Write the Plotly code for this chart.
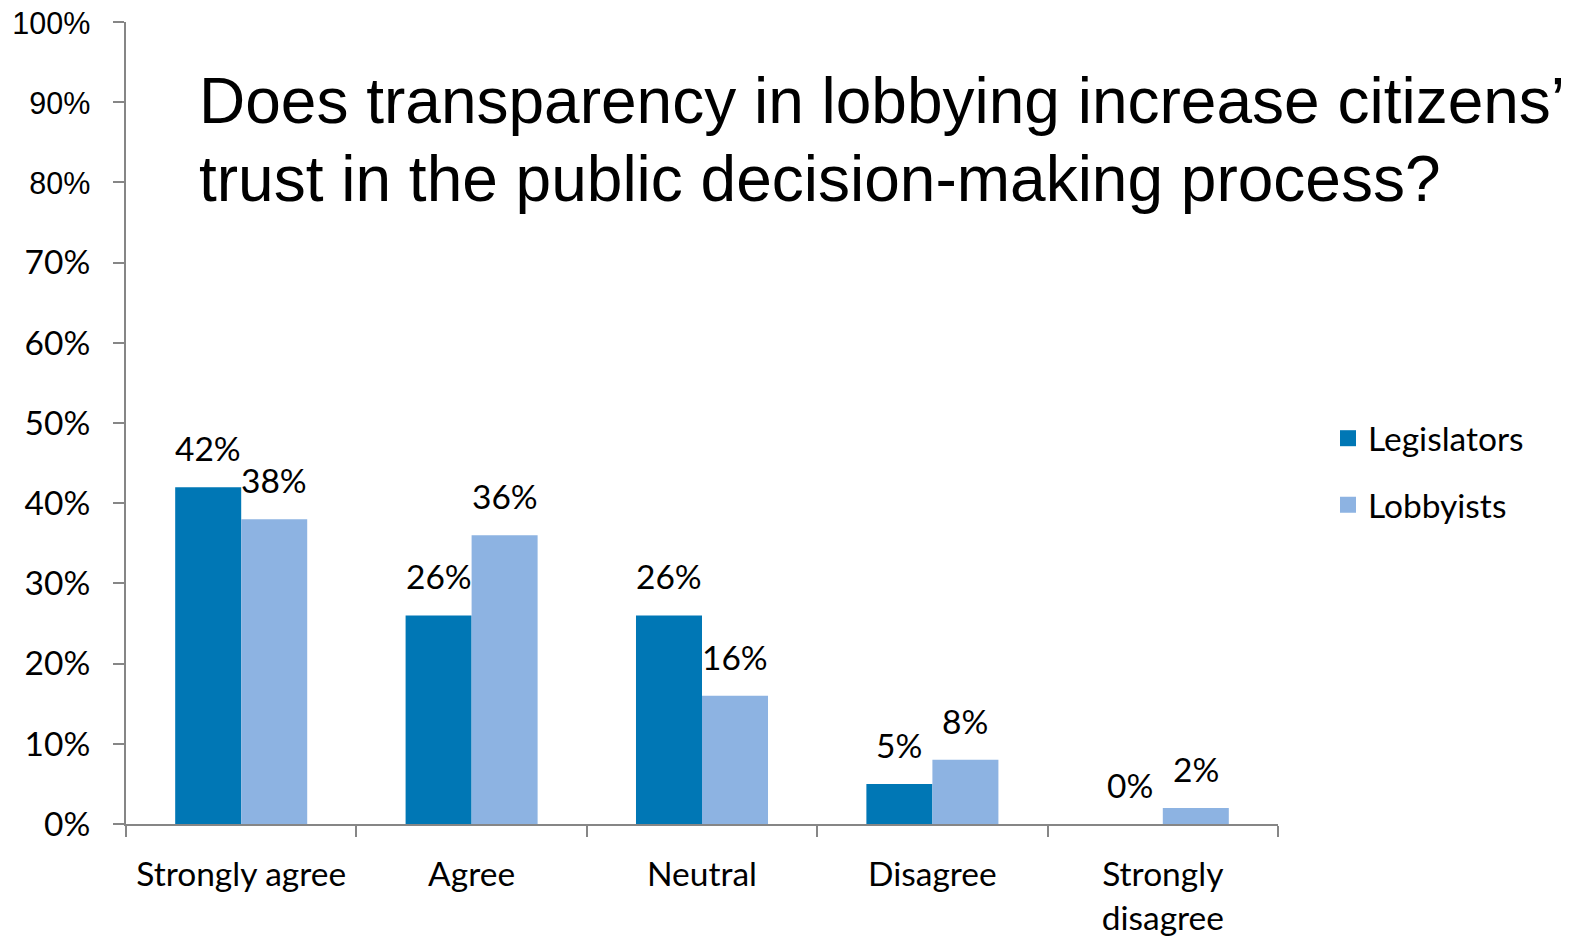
import plotly.graph_objects as go

# Survey answers and the share of each group choosing them (%)
categories = ["Strongly agree", "Agree", "Neutral", "Disagree", "Strongly<br>disagree"]
legislators = [42, 26, 26, 5, 0]
lobbyists = [38, 36, 16, 8, 2]

ytick_values = [0, 10, 20, 30, 40, 50, 60, 70, 80, 90, 100]
ytick_labels = ["0%", "10%", "20%", "30%", "40%", "50%", "60%", "70%",
                "80%", "90%", "100%"]

title_lines = ["Does transparency in lobbying increase citizens’",
               "trust in the public decision-making process?"]

DARK = "#0077B5"
LIGHT = "#8DB3E2"
AXIS = "#868686"
BODY_FONT = "Lato"
BODY_SIZE = 33.5
TITLE_FONT = "Liberation Sans"

W, H = 1572, 937
M_L, M_R, M_T, M_B = 126, 294, 22, 113
PLOT_W = W - M_L - M_R
PLOT_H = H - M_T - M_B


def px_x(x):
    """Figure pixel column -> paper x."""
    return (x - M_L) / PLOT_W


def px_y(y):
    """Figure pixel row -> paper y."""
    return (H - M_B - y) / PLOT_H


# Upper tick labels are set in the title's sans face
ticktext = [
    t if v < 80 else f'<span style="font-family:{TITLE_FONT};font-size:30.5px">{t}</span>'
    for v, t in zip(ytick_values, ytick_labels)
]

fig = go.Figure()
fig.add_trace(go.Bar(x=categories, y=legislators, name="Legislators",
                     marker=dict(color=DARK, line=dict(width=0)), showlegend=False))
fig.add_trace(go.Bar(x=categories, y=lobbyists, name="Lobbyists",
                     marker=dict(color=LIGHT, line=dict(width=0)), showlegend=False))

# Legend entries with larger square swatches
for name, color in (("Legislators", DARK), ("Lobbyists", LIGHT)):
    fig.add_trace(go.Scatter(x=[None], y=[None], mode="markers", name=name,
                             legendgroup=name,
                             marker=dict(symbol="square", size=20, color=color)))

# Value labels above each bar
annotations = []
for vals, shift in ((legislators, -33), (lobbyists, 33)):
    for cat, v in zip(categories, vals):
        annotations.append(dict(x=cat, y=v, xref="x", yref="y", text=f"{v}%",
                                showarrow=False, xshift=shift, yshift=17,
                                yanchor="bottom",
                                font=dict(family=BODY_FONT, size=BODY_SIZE,
                                          color="black")))

# Two-line question set inside the plot area
for line, y_px in zip(title_lines, (101, 179)):
    annotations.append(dict(x=px_x(197), y=px_y(y_px), xref="paper", yref="paper",
                            xanchor="left", yanchor="middle", align="left",
                            showarrow=False, text=line,
                            font=dict(family=TITLE_FONT, size=64, color="black")))

fig.update_layout(
    width=W, height=H,
    margin=dict(l=M_L, r=M_R, t=M_T, b=M_B, autoexpand=False),
    plot_bgcolor="white", paper_bgcolor="white",
    barmode="group", bargap=0.427, bargroupgap=0,
    font=dict(family=BODY_FONT, size=BODY_SIZE, color="black"),
    annotations=annotations,
    legend=dict(x=px_x(1328), y=0.5163, xanchor="left", yanchor="top",
                traceorder="grouped", tracegroupgap=20,
                font=dict(family=BODY_FONT, size=BODY_SIZE, color="black"),
                bgcolor="rgba(0,0,0,0)"),
)
fig.update_xaxes(showline=True, linecolor=AXIS, linewidth=2, automargin=False,
                 ticks="outside", tickson="boundaries", ticklen=11,
                 tickcolor=AXIS, tickwidth=2, showgrid=False,
                 ticklabelstandoff=20,
                 tickfont=dict(family=BODY_FONT, size=BODY_SIZE, color="black"))
fig.update_yaxes(range=[0, 100], tickvals=ytick_values, ticktext=ticktext,
                 showline=True, linecolor=AXIS, linewidth=2, automargin=False,
                 ticks="outside", ticklen=11, tickcolor=AXIS, tickwidth=2,
                 showgrid=False, zeroline=False, ticklabelstandoff=16,
                 tickfont=dict(family=BODY_FONT, size=BODY_SIZE, color="black"))

fig.write_html("out.html")
